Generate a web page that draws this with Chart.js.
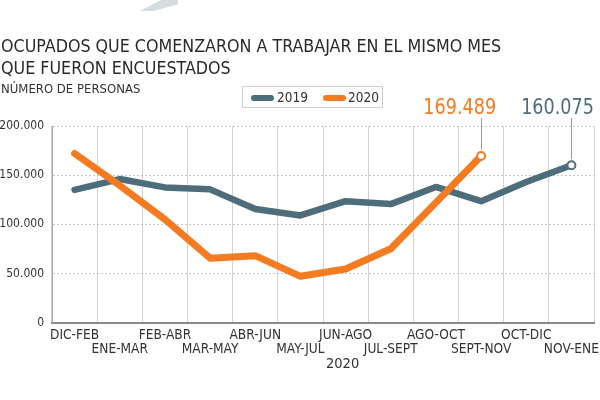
<!DOCTYPE html>
<html>
<head>
<meta charset="utf-8">
<script src="https://cdn.jsdelivr.net/npm/chart.js@4"></script>
<style>
  html, body { margin: 0; padding: 0; background: #fff; }
  #wrap { position: relative; width: 600px; height: 400px; overflow: hidden; font-family: "DejaVu Sans Condensed", "DejaVu Sans", sans-serif; color: #2b2b2b; }
  #c { position: absolute; left: 0; top: 0; }
  .title { position: absolute; left: 1px; top: 34.5px; font-size: 17.7px; line-height: 22px; color: #2a2a2a; white-space: nowrap; }
  .sub { position: absolute; left: 1px; top: 81px; font-size: 13px; color: #333; white-space: nowrap; }
  .legend { position: absolute; left: 242px; top: 86px; width: 139px; height: 20px; border: 1px solid #cfcfcf; font-size: 13.5px; color: #333; }
  .legend .it { position: absolute; top: 1px; line-height: 18px; }
  .legend .pill { position: absolute; top: 8px; width: 23px; height: 6px; border-radius: 3px; }
  .year { position: absolute; left: 326px; top: 355px; font-size: 14.5px; color: #333; }
  .deco { position: absolute; left: 140px; top: 0; width: 38px; height: 11px; background: #d5dde0; clip-path: polygon(0 100%, 55% 0, 100% 0, 100% 40%, 35% 100%); }
</style>
</head>
<body>
<div id="wrap">
  <div class="deco"></div>
  <canvas id="c" width="600" height="400"></canvas>
  <div class="title">OCUPADOS QUE COMENZARON A TRABAJAR EN EL MISMO MES<br>QUE FUERON ENCUESTADOS</div>
  <div class="sub">NÚMERO DE PERSONAS</div>
  <div class="legend">
    <span class="pill" style="left:8px;background:#4e6d7a"></span><span class="it" style="left:34px">2019</span>
    <span class="pill" style="left:80px;background:#f47b20"></span><span class="it" style="left:105px">2020</span>
  </div>
  <div class="year">2020</div>
</div>
<script>
const categories = ['DIC-FEB','ENE-MAR','FEB-ABR','MAR-MAY','ABR-JUN','MAY-JUL','JUN-AGO','JUL-SEPT','AGO-OCT','SEPT-NOV','OCT-DIC','NOV-ENE'];
const values2019 = [135000, 146000, 137500, 135500, 115500, 109000, 123500, 120500, 138000, 123500, 143000, 160075];
const values2020 = [172000, 139500, 105000, 65500, 68000, 47000, 54500, 75000, 122000, 169489];
const seriesNames = ['2019', '2020'];
const yTicks = [0, 50000, 100000, 150000, 200000];

const FONT = '"DejaVu Sans Condensed", "DejaVu Sans", sans-serif';
const C2019 = '#4e6d7a';
const C2020 = '#f47b20';

function fmt(v) {
  return String(v).replace(/\B(?=(\d{3})+(?!\d))/g, '.');
}

const lastRadius = (c) => (c.dataIndex === c.dataset.data.length - 1 ? 4 : 0);

const lastLabel = {
  id: 'lastLabel',
  afterDatasetsDraw(chart) {
    const ctx = chart.ctx;
    chart.data.datasets.forEach((ds, di) => {
      const meta = chart.getDatasetMeta(di);
      const n = ds.data.length - 1;
      const pt = meta.data[n];
      if (!pt) return;
      const x = pt.x, y = pt.y;
      ctx.save();
      ctx.strokeStyle = '#9a9a9a';
      ctx.lineWidth = 1;
      ctx.beginPath();
      ctx.moveTo(Math.round(x) + 0.5, y - 6);
      ctx.lineTo(Math.round(x) + 0.5, 118);
      ctx.stroke();
      ctx.translate(x + ds.labelShift, 114);
      ctx.scale(0.91, 1);
      ctx.font = '21.5px ' + FONT;
      ctx.fillStyle = ds.borderColor;
      ctx.textAlign = 'right';
      ctx.textBaseline = 'alphabetic';
      ctx.fillText(fmt(ds.data[n]), 0, 0);
      ctx.restore();
    });
  }
};

new Chart(document.getElementById('c'), {
  type: 'line',
  data: {
    labels: categories,
    datasets: [
      {
        label: seriesNames[0],
        data: values2019,
        borderColor: C2019,
        borderWidth: 6.5,
        pointRadius: lastRadius,
        pointBackgroundColor: '#fff',
        pointBorderColor: C2019,
        pointBorderWidth: 2,
        pointHoverRadius: 0,
        order: 1,
        labelShift: 22.5
      },
      {
        label: seriesNames[1],
        data: values2020,
        borderColor: C2020,
        borderWidth: 7,
        pointRadius: lastRadius,
        pointBackgroundColor: '#fff',
        pointBorderColor: C2020,
        pointBorderWidth: 2,
        pointHoverRadius: 0,
        order: 0,
        labelShift: 15
      }
    ]
  },
  options: {
    responsive: false,
    animation: false,
    layout: { padding: { top: 126, right: 5, left: 0, bottom: 0 } },
    elements: {
      line: { tension: 0, borderCapStyle: 'round', borderJoinStyle: 'round' }
    },
    plugins: {
      legend: { display: false },
      tooltip: { enabled: false }
    },
    scales: {
      x: {
        type: 'category',
        offset: true,
        afterFit: (s) => { s.height = 77.5; s.paddingLeft = 0; s.paddingRight = 0; },
        grid: { offset: true, color: '#d2d2d2', lineWidth: 1, drawTicks: false },
        border: { display: true, color: '#8a8a8a', width: 2 },
        ticks: {
          autoSkip: false,
          maxRotation: 0,
          minRotation: 0,
          padding: 6,
          color: '#333',
          font: { family: FONT, size: 13.6, lineHeight: 1.05 },
          callback: (v, i) => (i % 2 === 0 ? categories[i] : ['', categories[i]])
        }
      },
      y: {
        min: 0,
        max: 200000,
        afterFit: (s) => { s.width = 52; },
        afterBuildTicks: (s) => { s.ticks = yTicks.map((v) => ({ value: v })); },
        grid: { color: '#c4c4c4', lineWidth: 1, drawTicks: false },
        border: { display: true, color: '#a8a8a8', width: 1, dash: [2, 2] },
        ticks: {
          padding: 8,
          color: '#333',
          font: { family: FONT, size: 12 },
          callback: (v) => fmt(v)
        }
      }
    }
  },
  plugins: [lastLabel]
});
</script>
</body>
</html>
